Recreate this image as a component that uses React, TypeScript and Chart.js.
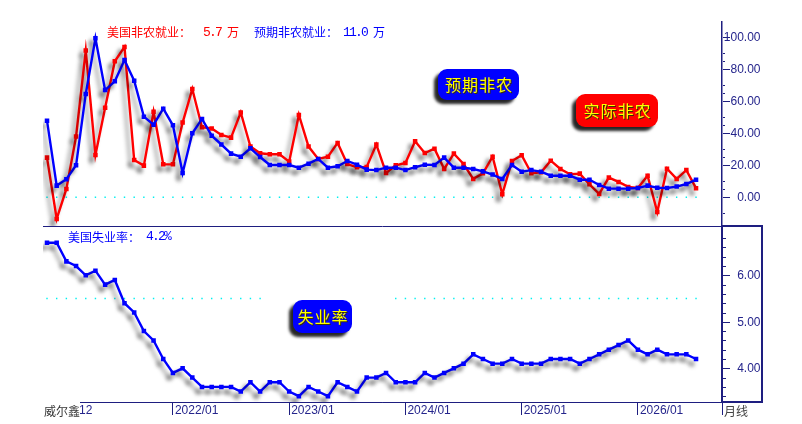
import React, { useEffect, useRef } from "react";
import { Chart, registerables } from "chart.js";

Chart.register(...registerables);

const months = [
  "2020/12",
  "2021/01","2021/02","2021/03","2021/04","2021/05","2021/06","2021/07","2021/08","2021/09","2021/10","2021/11","2021/12",
  "2022/01","2022/02","2022/03","2022/04","2022/05","2022/06","2022/07","2022/08","2022/09","2022/10","2022/11","2022/12",
  "2023/01","2023/02","2023/03","2023/04","2023/05","2023/06","2023/07","2023/08","2023/09","2023/10","2023/11","2023/12",
  "2024/01","2024/02","2024/03","2024/04","2024/05","2024/06","2024/07","2024/08","2024/09","2024/10","2024/11","2024/12",
  "2025/01","2025/02","2025/03","2025/04","2025/05","2025/06","2025/07","2025/08","2025/09","2025/10","2025/11","2025/12",
  "2026/01","2026/02","2026/03","2026/04","2026/05","2026/06","2026/07",
];

const actualNfp = [
  24.8, -13.5, 5.2, 38, 91.7, 26.5, 56, 85, 94, 23.3, 19.8, 53.5, 20.6, 20.6, 46.7, 67.7, 43.8, 43, 39, 37.3,
  53, 31.7, 27.5, 26.9, 26.9, 22.3, 51.5, 31.7, 24, 25.4, 34, 20.8, 18.8, 19, 33, 15.2, 20, 21.5, 35, 27.7,
  30.4, 17.7, 27.3, 20.8, 11.5, 15, 25.4, 1.9, 22.7, 26.3, 15, 15.6, 22.9, 17.7, 14.4, 14.8, 8.1, 2.1, 12.3, 9.6,
  6.5, 5.8, 13.5, -9.2, 17.9, 11.5, 17, 5.7,
];

const expectedNfp = [
  47.9, 7.3, 11.3, 20, 64.6, 99.4, 67, 72.5, 85.8, 72.9, 50.4, 45.4, 55.4, 45, 15.2, 40, 49, 38.5, 33, 27.3,
  25.4, 30.6, 25.2, 20.2, 20.2, 20.2, 18.5, 21, 24, 18.5, 19.4, 22.7, 20.4, 17.3, 17, 18.5, 18.5, 17, 18.8, 20.4,
  20.2, 24.8, 18.5, 18.5, 17.7, 16.2, 14.2, 11.5, 20.2, 16, 17, 16, 13.5, 13.5, 13.5, 11, 11, 7.7, 5.4, 5.4,
  5.4, 5.8, 7.3, 6, 5.8, 6.7, 8.3, 11,
];

const unemployment = [
  6.7, 6.7, 6.3, 6.2, 6.0, 6.1, 5.8, 5.9, 5.4, 5.2, 4.8, 4.6, 4.2, 3.9, 4.0, 3.8, 3.6, 3.6, 3.6, 3.6,
  3.5, 3.7, 3.5, 3.7, 3.7, 3.5, 3.4, 3.6, 3.5, 3.4, 3.7, 3.6, 3.5, 3.8, 3.8, 3.9, 3.7, 3.7, 3.7, 3.9,
  3.8, 3.9, 4.0, 4.1, 4.3, 4.2, 4.1, 4.1, 4.2, 4.1, 4.1, 4.1, 4.2, 4.2, 4.2, 4.1, 4.2, 4.3, 4.4, 4.5,
  4.6, 4.4, 4.3, 4.4, 4.3, 4.3, 4.3, 4.2,
];

const topTicks = [0, 20, 40, 60, 80, 100];
const topMinor = [-10, 5, 10, 25, 30, 45, 50, 65, 70, 85, 90];
const bottomTicks = [4, 5, 6];
const bottomMinor = [3.4, 3.6, 3.8, 4.2, 4.4, 4.6, 4.8, 5.2, 5.4, 5.6, 5.8, 6.2, 6.4, 6.6, 6.8];
const guideTopValue = 0;
const guideBottomValue = 5.5;
const guideBottomGap = [23, 35];

const NAVY = "#1e1e80";
const SANS = '"Liberation Sans", Arial, sans-serif';
const CJK = '"Noto Sans CJK SC", sans-serif';

const points = (arr: (number | null)[]) => arr.map((y, x) => ({ x, y }));

function asciiText(ctx: CanvasRenderingContext2D, s: string, x: number, y: number, color: string) {
  ctx.font = '13px "Liberation Mono", monospace';
  (ctx as any).letterSpacing = "-1.8px";
  ctx.fillStyle = color;
  ctx.fillText(s, x, y);
  (ctx as any).letterSpacing = "0px";
}

function cjkText(ctx: CanvasRenderingContext2D, s: string, x: number, y: number, color: string) {
  ctx.font = `12px ${CJK}`;
  ctx.fillStyle = color;
  ctx.fillText(s, x, y);
}

function badge(ctx: CanvasRenderingContext2D, s: string, x: number, y: number, w: number, h: number, fill: string) {
  ctx.save();
  ctx.shadowColor = "rgba(0,0,0,0.85)";
  ctx.shadowOffsetX = -4;
  ctx.shadowOffsetY = 4;
  ctx.shadowBlur = 3;
  ctx.fillStyle = fill;
  ctx.beginPath();
  ctx.roundRect(x, y, w, h, 9);
  ctx.fill();
  ctx.restore();
  ctx.save();
  ctx.font = `16px ${CJK}`;
  (ctx as any).letterSpacing = "1px";
  ctx.textAlign = "center";
  ctx.textBaseline = "middle";
  ctx.fillStyle = "#3a3000";
  ctx.fillText(s, x + w / 2 + 1.5, y + h / 2 + 1.5);
  ctx.fillStyle = "#ffff00";
  ctx.fillText(s, x + w / 2 + 0.5, y + h / 2 + 0.5);
  ctx.restore();
}

const shadowPlugin = {
  id: "lineShadow",
  beforeDatasetDraw(chart: any, args: any) {
    const ds = chart.data.datasets[args.index];
    if (!ds.castShadow) return;
    const ctx = chart.ctx;
    ctx.save();
    ctx.shadowColor = "rgba(0,0,0,0.42)";
    ctx.shadowOffsetX = -4;
    ctx.shadowOffsetY = 5;
    ctx.shadowBlur = 4;
  },
  afterDatasetDraw(chart: any, args: any) {
    const ds = chart.data.datasets[args.index];
    if (ds.castShadow) chart.ctx.restore();
  },
};

function axisLabels(ctx: CanvasRenderingContext2D, scale: any, values: number[], axisX: number) {
  for (const v of values) {
    const y = Math.round(scale.getPixelForValue(v));
    ctx.fillStyle = NAVY;
    ctx.fillRect(axisX + 1, y, 7, 1);
    ctx.fillStyle = "#25258c";
    ctx.font = `12px ${SANS}`;
    ctx.textAlign = "right";
    ctx.fillText(v.toFixed(2), 760.5, y + 0.5);
    ctx.textAlign = "left";
  }
}

const framePlugin = {
  id: "frame",
  afterDraw(chart: any) {
    const ctx: CanvasRenderingContext2D = chart.ctx;
    const { yTop, yBottom, x } = chart.scales;
    const axisX = Math.round(yTop.left);
    const split = Math.round(yBottom.top);
    const bottom = Math.round(yBottom.bottom);
    ctx.save();
    ctx.textBaseline = "middle";
    ctx.textAlign = "left";

    // separator between the panels and the boxed lower axis
    ctx.strokeStyle = NAVY;
    ctx.lineWidth = 1;
    ctx.beginPath();
    ctx.moveTo(x.left, split + 0.5);
    ctx.lineTo(axisX, split + 0.5);
    ctx.stroke();
    ctx.beginPath();
    ctx.moveTo(x.left, bottom + 0.5);
    ctx.lineTo(axisX, bottom + 0.5);
    ctx.stroke();
    ctx.lineWidth = 2;
    ctx.strokeRect(axisX, split, 40, bottom - split);
    ctx.lineWidth = 1;
    ctx.beginPath();
    ctx.moveTo(axisX + 0.5, bottom);
    ctx.lineTo(axisX + 0.5, bottom + 13);
    ctx.stroke();

    // value axis ticks and labels
    axisLabels(ctx, yTop, topTicks, axisX);
    axisLabels(ctx, yBottom, bottomTicks, axisX);
    ctx.fillStyle = NAVY;
    for (const v of topMinor) ctx.fillRect(axisX + 1, Math.round(yTop.getPixelForValue(v)), 2, 1);
    for (const v of bottomMinor) ctx.fillRect(axisX + 1, Math.round(yBottom.getPixelForValue(v)), 3, 1);

    // footer
    ctx.fillStyle = "#ffffff";
    ctx.fillRect(x.left - 2, bottom - 1, 80 - x.left + 2, chart.height - bottom + 1);
    cjkText(ctx, "威尔鑫", 44, bottom + 9, "#333333");
    cjkText(ctx, "月线", axisX + 2, bottom + 9, "#444444");

    // legends
    cjkText(ctx, "美国非农就业：", 107, 32.5, "#ff0000");
    asciiText(ctx, "5.7", 203, 32.5, "#ff0000");
    cjkText(ctx, "万", 227, 32.5, "#ff0000");
    cjkText(ctx, "预期非农就业：", 254, 32.5, "#0000ff");
    asciiText(ctx, "11.0", 343, 32.5, "#0000ff");
    cjkText(ctx, "万", 373, 32.5, "#0000ff");
    cjkText(ctx, "美国失业率：", 68, 237, "#0000ff");
    asciiText(ctx, "4.2%", 146, 237, "#0000ff");

    badge(ctx, "预期非农", 438, 69, 81, 31, "#0000ff");
    badge(ctx, "实际非农", 576, 94, 82, 33, "#ff0000");
    badge(ctx, "失业率", 293, 300, 59, 33, "#0000ff");
    ctx.restore();
  },
};

function seriesLine(label: string, data: number[], color: string, yAxisID: string) {
  return {
    label,
    data: points(data),
    yAxisID,
    borderColor: color,
    backgroundColor: color,
    borderWidth: 2.4,
    pointStyle: "rect",
    pointRadius: 3.2,
    pointBorderWidth: 0,
    tension: 0,
    castShadow: true,
  };
}

function guideLine(label: string, data: (number | null)[], yAxisID: string) {
  return {
    label,
    data: points(data),
    yAxisID,
    showLine: false,
    backgroundColor: "#00f0f0",
    pointStyle: "rect",
    pointRadius: 1,
    pointBorderWidth: 0,
  };
}

function yScale(min: number, max: number, weight: number) {
  return {
    type: "linear",
    position: "right",
    stack: "panels",
    stackWeight: weight,
    min,
    max,
    afterFit(s: any) {
      s.width = 802 - 721.7;
    },
    border: { color: NAVY, width: 1.5 },
    grid: { drawOnChartArea: false, drawTicks: false },
    ticks: { display: false },
  };
}

export default function App() {
  const ref = useRef<HTMLCanvasElement>(null);

  useEffect(() => {
    if (!ref.current) return;
    const tickIndexes = months.map((m, i) => (i === 0 || (i > 1 && m.endsWith("/01")) ? i : -1)).filter((i) => i >= 0);
    const chart = new Chart(ref.current, {
      type: "line",
      data: {
        datasets: [
          seriesLine("预期非农就业", expectedNfp, "#0000ff", "yTop"),
          seriesLine("美国非农就业", actualNfp, "#ff0000", "yTop"),
          seriesLine("美国失业率", unemployment, "#0000ff", "yBottom"),
          guideLine("top guide", months.map(() => guideTopValue), "yTop"),
          guideLine(
            "bottom guide",
            months.map((_, i) => (i >= guideBottomGap[0] && i <= guideBottomGap[1] ? null : guideBottomValue)),
            "yBottom",
          ),
        ] as any,
      },
      options: {
        responsive: false,
        animation: false,
        devicePixelRatio: 1,
        layout: { padding: { left: 43, top: 22, right: 0, bottom: 0 } },
        plugins: { legend: { display: false }, tooltip: { enabled: false } },
        scales: {
          x: {
            type: "linear",
            min: -0.413,
            max: 69.65,
            afterBuildTicks(s: any) {
              s.ticks = tickIndexes.map((value) => ({ value }));
            },
            afterFit(s: any) {
              s.height = 22;
            },
            border: { color: NAVY, width: 1 },
            grid: { drawOnChartArea: false, color: NAVY, tickLength: 13 },
            ticks: {
              color: "#25258c",
              autoSkip: false,
              maxRotation: 0,
              align: "start",
              labelOffset: 2,
              padding: -12,
              font: { family: SANS, size: 12 },
              callback: (v: number) => months[v],
            },
          },
          yTop: yScale(-18.25, 109.56, 204.5),
          yBottom: yScale(3.275, 7.05, 175.5),
        } as any,
      },
      plugins: [shadowPlugin, framePlugin],
    });
    return () => chart.destroy();
  }, []);

  return (
    <div style={{ position: "absolute", left: 0, top: 0, width: 802, height: 424, background: "#fff" }}>
      <canvas ref={ref} width={802} height={424} style={{ display: "block" }} />
    </div>
  );
}
